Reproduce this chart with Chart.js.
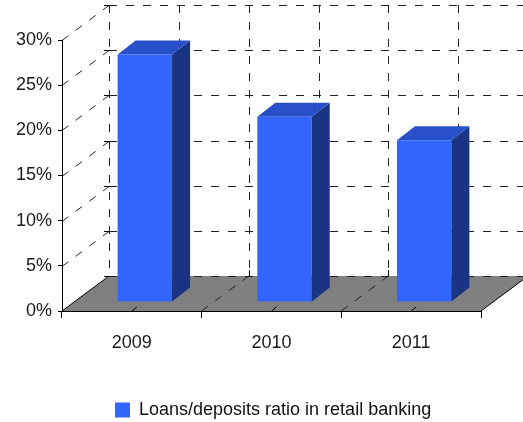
<!DOCTYPE html>
<html><head><meta charset="utf-8">
<script src="https://cdn.jsdelivr.net/npm/chart.js@4.4.0/dist/chart.umd.min.js"></script>
<style>html,body{margin:0;padding:0;background:#fff;}canvas{display:block;}</style>
</head><body>
<canvas id="c" width="523" height="422"></canvas>
<script>
const categories = ['2009', '2010', '2011'];
const seriesName = 'Loans/deposits ratio in retail banking';
const ratioValues = [27.4, 20.5, 17.9];
const yMin = 0, yMax = 30, yStep = 5;

const FONT = "'Liberation Sans Narrow', 'Arial Narrow', 'Liberation Sans', Arial, sans-serif";
const DEPTH = {dx: 47, dy: -35};
const BAR_FRONT = {dx: 13, dy: -9};
const BAR_DEPTH = {dx: 18, dy: -14};
const X_AXIS_H = 83;

function seg(ctx, x1, y1, x2, y2) { ctx.beginPath(); ctx.moveTo(x1, y1); ctx.lineTo(x2, y2); ctx.stroke(); }

const threeD = {
  id: 'threeD',
  afterLayout(chart) {
    const lg = chart.legend;
    if (lg) { lg.left = 115; lg.right = 523; lg.top += 7; lg.bottom += 7; }
  },
  beforeDraw(chart) {
    const {ctx, chartArea: a, scales: {x, y}} = chart;
    const catW = (a.right - a.left) / categories.length;
    const yTop = y.getPixelForValue(yMax);
    ctx.save();
    ctx.fillStyle = '#808080';
    ctx.beginPath();
    ctx.moveTo(a.left, a.bottom); ctx.lineTo(a.right, a.bottom);
    ctx.lineTo(a.right + DEPTH.dx, a.bottom + DEPTH.dy); ctx.lineTo(a.left + DEPTH.dx, a.bottom + DEPTH.dy);
    ctx.closePath(); ctx.fill();
    ctx.lineWidth = 1;
    ctx.strokeStyle = '#222';
    ctx.setLineDash([8, 9]);
    y.ticks.forEach(t => {
      const py = Math.round(y.getPixelForValue(t.value)) + 0.5;
      seg(ctx, a.left + DEPTH.dx, py + DEPTH.dy, chart.width + 10, py + DEPTH.dy);
      if (t.value !== yMin) seg(ctx, a.left, py, a.left + DEPTH.dx, py + DEPTH.dy);
    });
    for (let i = 0; i <= categories.length * 2; i++) {
      const px = Math.round(a.left + i * catW / 2 + DEPTH.dx) + 0.5;
      seg(ctx, px, yTop + DEPTH.dy, px, a.bottom + DEPTH.dy);
    }
    for (let i = 1; i < categories.length; i++) {
      const px = a.left + i * catW;
      seg(ctx, px, a.bottom, px + DEPTH.dx, a.bottom + DEPTH.dy);
    }
    ctx.setLineDash([]);
    ctx.strokeStyle = '#000';
    seg(ctx, a.left, a.bottom, a.left + DEPTH.dx, a.bottom + DEPTH.dy);
    seg(ctx, a.right, a.bottom, a.right + DEPTH.dx, a.bottom + DEPTH.dy);
    y.ticks.forEach(t => {
      const py = Math.round(y.getPixelForValue(t.value)) + 0.5;
      seg(ctx, a.left + DEPTH.dx - 5, py + DEPTH.dy, a.left + DEPTH.dx, py + DEPTH.dy);
    });
    for (let i = 0; i < categories.length; i++) {
      const cx = x.getPixelForValue(i);
      seg(ctx, cx, a.bottom, cx + 5, a.bottom - 4);
    }
    for (let i = 1; i <= categories.length; i++) {
      const px = Math.round(a.left + i * catW + DEPTH.dx) + 0.5;
      seg(ctx, px, a.bottom + DEPTH.dy, px, a.bottom + DEPTH.dy - 6);
    }
    ctx.restore();
  },
  beforeDatasetsDraw(chart) {
    chart.ctx.save();
    chart.ctx.translate(BAR_FRONT.dx, BAR_FRONT.dy);
  },
  afterDatasetsDraw(chart) {
    const ctx = chart.ctx;
    ctx.restore();
    ctx.save();
    const meta = chart.getDatasetMeta(0);
    meta.data.forEach(bar => {
      const p = bar.getProps(['x', 'y', 'base', 'width'], true);
      const l = p.x - p.width / 2 + BAR_FRONT.dx, r = p.x + p.width / 2 + BAR_FRONT.dx;
      const t = p.y + BAR_FRONT.dy, b = p.base + BAR_FRONT.dy;
      ctx.fillStyle = '#1A3382';
      ctx.beginPath();
      ctx.moveTo(r, t); ctx.lineTo(r + BAR_DEPTH.dx, t + BAR_DEPTH.dy);
      ctx.lineTo(r + BAR_DEPTH.dx, b + BAR_DEPTH.dy); ctx.lineTo(r, b);
      ctx.closePath(); ctx.fill();
      ctx.fillStyle = '#2850C8';
      ctx.beginPath();
      ctx.moveTo(l, t); ctx.lineTo(l + BAR_DEPTH.dx, t + BAR_DEPTH.dy);
      ctx.lineTo(r + BAR_DEPTH.dx, t + BAR_DEPTH.dy); ctx.lineTo(r, t);
      ctx.closePath(); ctx.fill();
    });
    ctx.restore();
  }
};

new Chart(document.getElementById('c'), {
  type: 'bar',
  data: {
    labels: categories,
    datasets: [{
      label: seriesName,
      data: ratioValues,
      backgroundColor: '#3366FF',
      borderWidth: 0,
      barPercentage: 0.39,
      categoryPercentage: 1.0,
      clip: false
    }]
  },
  options: {
    responsive: false,
    animation: false,
    layout: {padding: {left: 0, right: 42, top: 40, bottom: 0}},
    plugins: {
      legend: {
        position: 'bottom',
        align: 'start',
        labels: {
          boxWidth: 15, boxHeight: 15, padding: 0,
          color: '#111',
          font: {family: FONT, size: 18}
        }
      },
      tooltip: {enabled: false}
    },
    scales: {
      x: {
        offset: true,
        grid: {offset: true, drawOnChartArea: false, drawTicks: true, tickLength: 7, color: '#000'},
        border: {display: true, color: '#000', width: 1},
        ticks: {color: '#1a1a1a', font: {family: FONT, size: 18}, padding: 14, maxRotation: 0},
        afterFit(s) { s.height = X_AXIS_H; }
      },
      y: {
        min: yMin, max: yMax,
        ticks: {stepSize: yStep, callback: v => v + '%', color: '#1a1a1a', font: {family: FONT, size: 18}, padding: 6},
        grid: {drawOnChartArea: false, drawTicks: true, tickLength: 4, color: '#000'},
        border: {display: true, color: '#000', width: 1},
        afterFit(s) { s.width = 62; }
      }
    }
  },
  plugins: [threeD]
});
</script>
</body></html>
